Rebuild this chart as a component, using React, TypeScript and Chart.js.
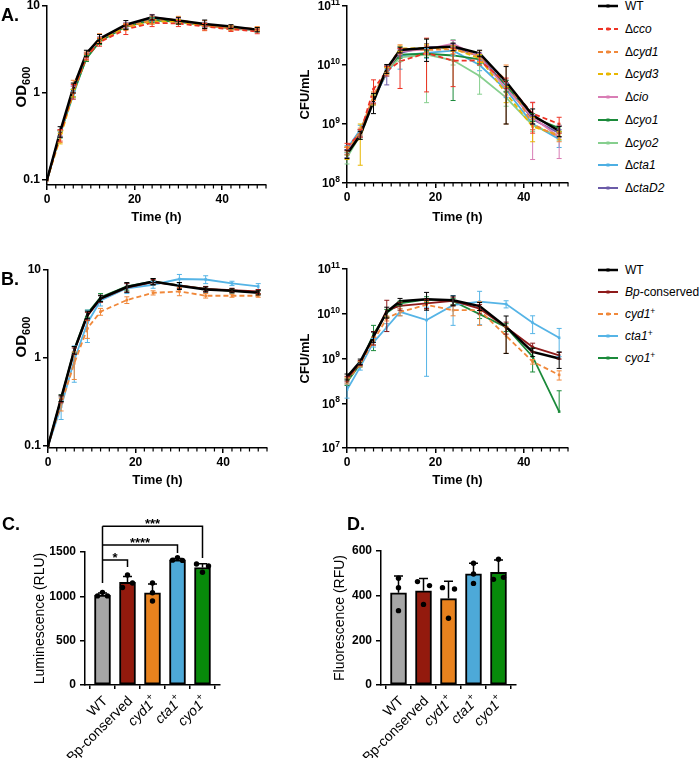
import React, { useEffect, useRef } from 'react';
import { Chart, registerables } from 'chart.js';

Chart.register(...registerables);

const FONT = '"Liberation Sans", Arial, Helvetica, sans-serif';
Chart.defaults.font.family = FONT;
Chart.defaults.color = '#000';

// ---------------- data ----------------
const TIME_H = [0, 3, 6, 9, 12, 18, 24, 30, 36, 42, 48];
const TIME_TICKS = [0, 20, 40];
const OD_TICKS = [0.1, 1, 10];
const CFU_A_EXP = [8, 9, 10, 11];
const CFU_B_EXP = [7, 8, 9, 10, 11];

const A_NAMES = ['WT', 'Δcco', 'Δcyd1', 'Δcyd3', 'Δcio', 'Δcyo1', 'Δcyo2', 'Δcta1', 'ΔctaD2'];
const B_NAMES = ['WT', 'Bp-conserved', 'cyd1+', 'cta1+', 'cyo1+'];

// Panel A – OD600
const A_OD_WT = [0.1, 0.36, 1.15, 2.85, 4.2, 6.1, 7.4, 6.8, 6.2, 5.8, 5.35];
const A_OD_WT_SD = [0, 0.05, 0.15, 0.25, 0.5, 0.7, 0.5, 0.6, 0.7, 0.3, 0.3];
const A_OD_CCO = [0.1, 0.33, 1.05, 2.6, 3.85, 5.4, 6.4, 6.3, 5.8, 5.4, 5.1];
const A_OD_CCO_SD = [0, 0.05, 0.2, 0.2, 0.4, 0.7, 0.6, 0.5, 0.5, 0.3, 0.3];
const A_OD_CYD1 = [0.1, 0.32, 1.2, 2.75, 4.3, 5.8, 6.9, 7.0, 6.0, 5.6, 5.5];
const A_OD_CYD1_SD = [0, 0.05, 0.2, 0.2, 0.5, 0.5, 0.7, 0.6, 0.8, 0.4, 0.3];
const A_OD_CYD3 = [0.1, 0.3, 1.0, 2.6, 4.0, 5.7, 6.6, 6.6, 5.9, 5.6, 5.4];
const A_OD_CYD3_SD = [0, 0.04, 0.1, 0.2, 0.3, 0.4, 0.4, 0.4, 0.4, 0.3, 0.2];
const A_OD_CIO = [0.1, 0.34, 1.1, 2.7, 4.1, 6.0, 7.5, 6.8, 6.0, 5.6, 5.3];
const A_OD_CIO_SD = [0, 0.03, 0.1, 0.2, 0.3, 0.4, 0.5, 0.4, 0.4, 0.3, 0.2];
const A_OD_CYO1 = [0.1, 0.34, 1.0, 2.5, 3.9, 5.8, 6.9, 6.6, 6.0, 5.6, 5.3];
const A_OD_CYO1_SD = [0, 0.03, 0.1, 0.2, 0.3, 0.4, 0.4, 0.4, 0.4, 0.2, 0.2];
const A_OD_CYO2 = [0.1, 0.33, 1.0, 2.5, 3.9, 5.8, 6.8, 6.6, 5.9, 5.5, 5.2];
const A_OD_CYO2_SD = [0, 0.03, 0.1, 0.2, 0.3, 0.4, 0.4, 0.4, 0.4, 0.2, 0.2];
const A_OD_CTA1 = [0.1, 0.34, 0.95, 2.6, 4.0, 5.9, 7.0, 6.7, 6.0, 5.6, 5.3];
const A_OD_CTA1_SD = [0, 0.03, 0.1, 0.2, 0.3, 0.4, 0.4, 0.4, 0.4, 0.2, 0.2];
const A_OD_CTAD2 = [0.1, 0.35, 1.1, 2.7, 4.1, 6.0, 7.2, 6.8, 6.1, 5.7, 5.4];
const A_OD_CTAD2_SD = [0, 0.03, 0.1, 0.2, 0.3, 0.4, 0.4, 0.4, 0.4, 0.2, 0.2];

// Panel A – CFU/mL
const A_CFU_WT = [3.1e8, 6.5e8, 2.4e9, 8.7e9, 1.8e10, 1.95e10, 2.05e10, 1.58e10, 5.2e9, 1.4e9, 7.6e8];
const A_CFU_WT_SD = [5e7, 1e8, 9e8, 1.5e9, 2e9, 8e9, 3e9, 2e9, 4.2e9, 4e8, 1.5e8];
const A_CFU_CCO = [4.1e8, 7e8, 3.9e9, 8e9, 1.15e10, 1.6e10, 1.18e10, 1.2e10, 5e9, 1.5e9, 1.0e9];
const A_CFU_CCO_SD = [6e7, 1e8, 1.7e9, 1.5e9, 7.5e9, 1.25e10, 7.5e9, 2e9, 1e9, 8e8, 3e8];
const A_CFU_CYD1 = [3.5e8, 7.5e8, 3e9, 8.5e9, 1.9e10, 1.8e10, 1.85e10, 1.45e10, 5.5e9, 1e9, 6e8];
const A_CFU_CYD1_SD = [5e7, 1e8, 5e8, 1e9, 3e9, 3e9, 3e9, 3e9, 4.5e9, 2e8, 1e8];
const A_CFU_CYD3 = [3.3e8, 6e8, 2.6e9, 8e9, 1.9e10, 1.95e10, 1.9e10, 1.3e10, 3.3e9, 9e8, 6.5e8];
const A_CFU_CYD3_SD = [8e7, 4e8, 5e8, 1e9, 2e9, 3e9, 2e9, 2e9, 1e9, 4e8, 1e8];
const A_CFU_CIO = [3.6e8, 7e8, 2.8e9, 8e9, 1.7e10, 1.85e10, 2.3e10, 1.35e10, 4e9, 1.3e9, 6e8];
const A_CFU_CIO_SD = [5e7, 1e8, 5e8, 1e9, 2e9, 3e9, 3e9, 2e9, 1e9, 1.05e9, 3.4e8];
const A_CFU_CYO1 = [3.5e8, 7e8, 2.8e9, 8.5e9, 1.5e10, 1.55e10, 1.45e10, 1.25e10, 4.5e9, 1.3e9, 8.5e8];
const A_CFU_CYO1_SD = [5e7, 1e8, 5e8, 1e9, 2e9, 2e9, 1.2e10, 2e9, 1e9, 2e8, 1e8];
const A_CFU_CYO2 = [2.7e8, 6.5e8, 2.7e9, 8e9, 1.35e10, 1.5e10, 1.2e10, 6.5e9, 2.8e9, 9.5e8, 6.2e8];
const A_CFU_CYO2_SD = [6e7, 1e8, 5e8, 1e9, 2e9, 1.27e10, 2e9, 3.3e9, 8e8, 2e8, 1e8];
const A_CFU_CTA1 = [3.8e8, 8e8, 2.6e9, 7.5e9, 1.45e10, 1.6e10, 1.75e10, 1.0e10, 3.8e9, 1e9, 5.5e8];
const A_CFU_CTA1_SD = [5e7, 1.5e8, 5e8, 1e9, 6e9, 3e9, 3e9, 2e9, 1e9, 2e8, 1.5e8];
const A_CFU_CTAD2 = [3.2e8, 7e8, 2.7e9, 7.2e9, 1.6e10, 2.0e10, 2.0e10, 1.4e10, 4.5e9, 1.2e9, 7e8];
const A_CFU_CTAD2_SD = [5e7, 1e8, 5e8, 2.6e9, 2e9, 3e9, 3e9, 2e9, 1e9, 2e8, 1e8];

// Panel B – OD600
const B_OD_WT = [0.1, 0.35, 1.23, 3.1, 4.77, 6.4, 7.4, 6.6, 6.0, 5.8, 5.5];
const B_OD_WT_SD = [0, 0.03, 0.12, 0.3, 0.4, 0.8, 0.6, 0.6, 0.4, 0.3, 0.3];
const B_OD_BP = [0.1, 0.34, 1.2, 3.0, 4.7, 6.3, 7.3, 6.7, 6.1, 5.9, 5.7];
const B_OD_BP_SD = [0, 0.03, 0.1, 0.3, 0.4, 0.7, 0.5, 0.5, 0.4, 0.3, 0.3];
const B_OD_CYD1 = [0.1, 0.3, 0.87, 2.17, 3.36, 4.56, 5.5, 5.7, 5.1, 5.1, 5.1];
const B_OD_CYD1_SD = [0, 0.05, 0.3, 0.5, 0.3, 0.4, 0.3, 0.6, 0.3, 0.2, 0.2];
const B_OD_CTA1 = [0.1, 0.28, 0.95, 2.5, 4.5, 6.2, 6.8, 7.9, 7.8, 7.05, 6.5];
const B_OD_CTA1_SD = [0, 0.08, 0.42, 1.0, 0.6, 0.8, 0.6, 1.0, 0.8, 0.4, 0.5];
const B_OD_CYO1 = [0.1, 0.35, 1.25, 3.2, 4.9, 6.5, 7.4, 6.7, 6.1, 5.8, 5.6];
const B_OD_CYO1_SD = [0, 0.03, 0.1, 0.3, 0.5, 0.6, 0.6, 0.5, 0.4, 0.3, 0.3];

// Panel B – CFU/mL
const B_CFU_WT = [3.9e8, 8.5e8, 3.1e9, 1.1e10, 1.9e10, 2.1e10, 2.0e10, 1.48e10, 5.1e9, 1.4e9, 1.0e9];
const B_CFU_WT_SD = [6e7, 1.2e8, 8e8, 3e9, 3e9, 9e9, 5e9, 3e9, 3.8e9, 3e8, 4e8];
const B_CFU_BP = [3.5e8, 8e8, 3e9, 1.2e10, 1.5e10, 1.7e10, 1.95e10, 1.3e10, 5e9, 1.8e9, 1.17e9];
const B_CFU_BP_SD = [5e7, 1e8, 1e9, 8e9, 3e9, 4e9, 4e9, 3e9, 1.5e9, 4e8, 2e8];
const B_CFU_CYD1 = [3.2e8, 7.5e8, 2.5e9, 7.9e9, 1.1e10, 1.58e10, 1.2e10, 1.2e10, 3.2e9, 8.5e8, 4.3e8];
const B_CFU_CYD1_SD = [5e7, 1e8, 5e8, 1e9, 2e9, 3e9, 3e9, 6.5e9, 1.9e9, 1e8, 1e8];
const B_CFU_CTA1 = [2e8, 6.5e8, 2.3e9, 5e9, 1.1e10, 7.2e9, 1.55e10, 1.87e10, 1.65e10, 6.3e9, 2.9e9];
const B_CFU_CTA1_SD = [7e7, 1e8, 5e8, 1e9, 2e9, 6.8e9, 1e10, 1.3e10, 3e9, 2.7e9, 1.8e9];
const B_CFU_CYO1 = [3e8, 7.5e8, 3.5e9, 1.05e10, 1.7e10, 2.1e10, 1.9e10, 9.8e9, 5e9, 1.1e9, 6.5e7];
const B_CFU_CYO1_SD = [5e7, 1e8, 2e9, 2e9, 2e9, 3e9, 3e9, 2e9, 1e9, 6e8, 1.25e8];

// Panel C – luminescence
const BAR_LABELS = ['WT', 'Bp-conserved', 'cyd1+', 'cta1+', 'cyo1+'];
const C_MEAN = [1015, 1158, 1040, 1412, 1325];
const C_SD = [22, 65, 100, 14, 42];
const C_PTS_1 = [1005, 1240, 1150, 1408, 1365];
const C_PTS_2 = [1045, 1100, 1040, 1435, 1342];
const C_PTS_3 = [1005, 1150, 948, 1405, 1271];
const SIG_TO = [1, 3, 4];
const SIG_TEXT = ['*', '****', '***'];
const SIG_LEVEL = [1410, 1580, 1790];
const SIG_END = [1331, 1490, 1432];
const SIG_FROM_END = 1150;

// Panel D – fluorescence
const D_MEAN = [413, 422, 387, 498, 505];
const D_SD = [75, 55, 78, 47, 55];
const D_PTS_1 = [478, 463, 436, 545, 563];
const D_PTS_2 = [436, 445, 430, 497, 473];
const D_PTS_3 = [333, 361, 299, 455, 482];

// ---------------- styles ----------------
const A_COLORS = ['#000000', '#EE3324', '#F0883A', '#E8B700', '#D97DB5', '#1B8A3A', '#86CF8E', '#4DAFE3', '#6B5BA8'];
const A_DASH = [false, true, true, true, false, false, false, false, false];
const B_COLORS = ['#000000', '#8E1A1A', '#F0883A', '#55B4E6', '#1B8A3A'];
const B_DASH = [false, false, true, false, false];
const BAR_COLORS = ['#A6A6A6', '#931A0D', '#E8821E', '#4DA9D8', '#078A0A'];
const C_JITTER_PX = [[-5, 0, 5], [0, -5, 5], [0, 0, 0], [-5, 0, 5], [-6, 6, 0]];
const D_JITTER_PX = [[0, 0, 0], [-6, 6, 0], [-6, 6, 0], [0, 0, 0], [0, -5, 5]];
const PX_PER_BAR = 25;

const A_OD = [A_OD_WT, A_OD_CCO, A_OD_CYD1, A_OD_CYD3, A_OD_CIO, A_OD_CYO1, A_OD_CYO2, A_OD_CTA1, A_OD_CTAD2];
const A_OD_SD = [A_OD_WT_SD, A_OD_CCO_SD, A_OD_CYD1_SD, A_OD_CYD3_SD, A_OD_CIO_SD, A_OD_CYO1_SD, A_OD_CYO2_SD, A_OD_CTA1_SD, A_OD_CTAD2_SD];
const A_CFU = [A_CFU_WT, A_CFU_CCO, A_CFU_CYD1, A_CFU_CYD3, A_CFU_CIO, A_CFU_CYO1, A_CFU_CYO2, A_CFU_CTA1, A_CFU_CTAD2];
const A_CFU_SD = [A_CFU_WT_SD, A_CFU_CCO_SD, A_CFU_CYD1_SD, A_CFU_CYD3_SD, A_CFU_CIO_SD, A_CFU_CYO1_SD, A_CFU_CYO2_SD, A_CFU_CTA1_SD, A_CFU_CTAD2_SD];
const B_OD = [B_OD_WT, B_OD_BP, B_OD_CYD1, B_OD_CTA1, B_OD_CYO1];
const B_OD_SD = [B_OD_WT_SD, B_OD_BP_SD, B_OD_CYD1_SD, B_OD_CTA1_SD, B_OD_CYO1_SD];
const B_CFU = [B_CFU_WT, B_CFU_BP, B_CFU_CYD1, B_CFU_CTA1, B_CFU_CYO1];
const B_CFU_SD = [B_CFU_WT_SD, B_CFU_BP_SD, B_CFU_CYD1_SD, B_CFU_CTA1_SD, B_CFU_CYO1_SD];

// ---------------- helpers ----------------
type Seg = { t: string; italic?: boolean; sup?: boolean; sub?: boolean; size?: number };

function drawRich(ctx: CanvasRenderingContext2D, segs: Seg[], x: number, y: number, size: number, weight: string, align: 'left' | 'right' | 'center') {
  const fontFor = (s: Seg) => `${s.italic ? 'italic ' : ''}${weight} ${s.size ? s.size : (s.sup || s.sub ? Math.round(size * 0.72) : size)}px ${FONT}`;
  let total = 0;
  const widths = segs.map((s) => {
    ctx.font = fontFor(s);
    const w = ctx.measureText(s.t).width;
    total += w;
    return w;
  });
  let cx = align === 'right' ? x - total : align === 'center' ? x - total / 2 : x;
  ctx.textBaseline = 'middle';
  ctx.textAlign = 'left';
  segs.forEach((s, i) => {
    ctx.font = fontFor(s);
    const dy = s.sup ? -size * 0.38 : s.sub ? size * 0.32 : 0;
    ctx.fillText(s.t, cx, y + dy);
    cx += widths[i];
  });
}

function geneSegs(label: string): Seg[] {
  if (label.endsWith('+')) return [{ t: label.slice(0, -1), italic: true }, { t: '+', sup: true }];
  return [{ t: label }];
}

type Box = { left: number; top: number; width: number; height: number; padL: number; padT: number; padR: number; xH: number };

const tickFont = { size: 12, weight: 'bold' as const, family: FONT };
const axisBorder = { display: true, color: '#000', width: 1.5 };
const tickGrid = (len: number) => ({ display: true, drawOnChartArea: false, drawTicks: true, tickLength: len, color: '#000', lineWidth: 1.5 });

function baseOptions(box: Box) {
  return {
    responsive: false,
    animation: false,
    devicePixelRatio: 1,
    events: [],
    layout: { padding: { left: 0, top: box.padT, right: box.padR, bottom: 0 } },
    plugins: { legend: { display: false }, tooltip: { enabled: false }, title: { display: false } },
  };
}

const fixYWidth = (w: number) => (s: any) => { s.width = w; s.paddingTop = 0; s.paddingBottom = 0; };
const fixXHeight = (h: number) => (s: any) => { s.height = h; s.paddingLeft = 0; s.paddingRight = 0; };

// ---------------- plugins ----------------
const lineErrorBars = {
  id: 'lineErrorBars',
  afterDatasetsDraw(chart: any) {
    const ctx = chart.ctx;
    const ys = chart.scales.y;
    const sets = chart.data.datasets;
    for (let d = sets.length - 1; d >= 0; d--) {
      const set = sets[d];
      if (!set.sd) continue;
      const meta = chart.getDatasetMeta(d);
      ctx.save();
      ctx.strokeStyle = set.borderColor;
      ctx.lineWidth = 1;
      meta.data.forEach((el: any, i: number) => {
        const sd = set.sd[i];
        if (!sd) return;
        const v = set.data[i].y;
        const top = ys.getPixelForValue(v + sd);
        const lo = v - sd;
        const loOk = lo > ys.min;
        const bot = loOk ? ys.getPixelForValue(lo) : el.y;
        const x = el.x;
        ctx.beginPath();
        ctx.moveTo(x, top);
        ctx.lineTo(x, bot);
        ctx.moveTo(x - 2.5, top);
        ctx.lineTo(x + 2.5, top);
        if (loOk) {
          ctx.moveTo(x - 2.5, bot);
          ctx.lineTo(x + 2.5, bot);
        }
        ctx.stroke();
      });
      ctx.restore();
    }
  },
};

const minorTicks = {
  id: 'minorTicks',
  afterDraw(chart: any) {
    const xs = chart.scales.x;
    const ctx = chart.ctx;
    ctx.save();
    ctx.strokeStyle = '#000';
    ctx.lineWidth = 1.2;
    ctx.beginPath();
    for (let v = 2; v <= xs.max; v += 2) {
      if (TIME_TICKS.includes(v)) continue;
      const px = xs.getPixelForValue(v);
      ctx.moveTo(px, xs.top);
      ctx.lineTo(px, xs.top + 3.5);
    }
    ctx.stroke();
    ctx.restore();
  },
};

const powTicks = (exps: number[]) => ({
  id: 'powTicks',
  afterDraw(chart: any) {
    const ys = chart.scales.y;
    const ctx = chart.ctx;
    ctx.save();
    ctx.fillStyle = '#000';
    exps.forEach((e) => {
      const y = ys.getPixelForValue(Math.pow(10, e));
      drawRich(ctx, [{ t: '10' }, { t: String(e), sup: true, size: 8.5 }], ys.right - 7, y + 1, 12, 'bold', 'right');
    });
    ctx.restore();
  },
});

const odTitle = (cx: number, cy: number) => ({
  id: 'odTitle',
  afterDraw(chart: any) {
    const ctx = chart.ctx;
    ctx.save();
    ctx.fillStyle = '#000';
    ctx.translate(cx, cy);
    ctx.rotate(-Math.PI / 2);
    drawRich(ctx, [{ t: 'OD', size: 15 }, { t: '600', sub: true, size: 11 }], 0, 0, 15, 'bold', 'center');
    ctx.restore();
  },
});

const barErrors = {
  id: 'barErrors',
  afterDatasetDraw(chart: any, args: any) {
    const set = chart.data.datasets[args.index];
    if (!set.sd) return;
    const ys = chart.scales.y;
    const ctx = chart.ctx;
    ctx.save();
    ctx.strokeStyle = '#000';
    ctx.lineWidth = 1.5;
    args.meta.data.forEach((el: any, i: number) => {
      const top = ys.getPixelForValue(set.data[i].y + set.sd[i]);
      ctx.beginPath();
      ctx.moveTo(el.x, el.y);
      ctx.lineTo(el.x, top);
      ctx.moveTo(el.x - 4.5, top);
      ctx.lineTo(el.x + 4.5, top);
      ctx.stroke();
    });
    ctx.restore();
  },
};

const barLabels = {
  id: 'barLabels',
  afterDraw(chart: any) {
    const xs = chart.scales.x;
    const ctx = chart.ctx;
    ctx.save();
    ctx.fillStyle = '#000';
    BAR_LABELS.forEach((lab, i) => {
      const x = xs.getPixelForValue(i);
      ctx.save();
      ctx.translate(x + 3, xs.top + 14);
      ctx.rotate(-Math.PI / 4);
      drawRich(ctx, geneSegs(lab), 0, 0, 14, 'normal', 'right');
      ctx.restore();
    });
    ctx.restore();
  },
};

const sigBrackets = {
  id: 'sigBrackets',
  afterDraw(chart: any) {
    const xs = chart.scales.x;
    const ys = chart.scales.y;
    const ctx = chart.ctx;
    ctx.save();
    ctx.strokeStyle = '#000';
    ctx.fillStyle = '#000';
    ctx.lineWidth = 1.5;
    const x0 = xs.getPixelForValue(0);
    ctx.beginPath();
    ctx.moveTo(x0, ys.getPixelForValue(Math.max(...SIG_LEVEL)));
    ctx.lineTo(x0, ys.getPixelForValue(SIG_FROM_END));
    SIG_TO.forEach((to, k) => {
      const x1 = xs.getPixelForValue(to);
      const yl = ys.getPixelForValue(SIG_LEVEL[k]);
      ctx.moveTo(x0, yl);
      ctx.lineTo(x1, yl);
      ctx.lineTo(x1, ys.getPixelForValue(SIG_END[k]));
    });
    ctx.stroke();
    ctx.font = `bold 13px ${FONT}`;
    ctx.textAlign = 'center';
    ctx.textBaseline = 'alphabetic';
    SIG_TO.forEach((to, k) => {
      const x1 = xs.getPixelForValue(to);
      const yl = ys.getPixelForValue(SIG_LEVEL[k]);
      ctx.fillText(SIG_TEXT[k], (x0 + x1) / 2, yl + 2);
    });
    ctx.restore();
  },
};

// ---------------- chart builders ----------------
function lineDatasets(names: string[], colors: string[], dash: boolean[], vals: number[][], sds: number[][]) {
  return names.map((name, i) => ({
    label: name,
    data: TIME_H.map((t, j) => ({ x: t, y: vals[i][j] })),
    sd: sds[i],
    borderColor: colors[i],
    backgroundColor: colors[i],
    pointBackgroundColor: colors[i],
    borderWidth: i === 0 ? 2.5 : 1.8,
    borderDash: dash[i] ? [5, 3] : [],
    pointRadius: 1.8,
    pointStyle: 'rect',
    pointBorderWidth: 0,
    tension: 0,
  }));
}

function timeAxis(box: Box, titlePadBottom: number) {
  return {
    type: 'linear',
    min: 0,
    max: 50,
    afterBuildTicks: (s: any) => { s.ticks = TIME_TICKS.map((v) => ({ value: v })); },
    afterFit: fixXHeight(box.xH),
    border: axisBorder,
    grid: tickGrid(5),
    ticks: { font: tickFont, color: '#000', padding: 2, maxRotation: 0 },
    title: { display: true, text: 'Time (h)', font: { size: 13, weight: 'bold', family: FONT }, color: '#000', padding: { top: 0, bottom: titlePadBottom } },
  };
}

function odChart(box: Box, names: string[], colors: string[], dash: boolean[], vals: number[][], sds: number[][], yMin: number, titlePadBottom: number) {
  return {
    type: 'line',
    data: { datasets: lineDatasets(names, colors, dash, vals, sds) },
    options: {
      ...baseOptions(box),
      scales: {
        x: timeAxis(box, titlePadBottom),
        y: {
          type: 'logarithmic',
          min: yMin,
          max: 10,
          afterBuildTicks: (s: any) => { s.ticks = OD_TICKS.map((v) => ({ value: v })); },
          afterFit: fixYWidth(box.padL),
          border: axisBorder,
          grid: tickGrid(5),
          ticks: { font: tickFont, color: '#000', padding: 2, callback: (v: any) => String(v) },
        },
      },
    },
    plugins: [lineErrorBars, minorTicks, odTitle(22, 87)],
  };
}

function cfuChart(box: Box, names: string[], colors: string[], dash: boolean[], vals: number[][], sds: number[][], exps: number[], titlePadBottom: number) {
  return {
    type: 'line',
    data: { datasets: lineDatasets(names, colors, dash, vals, sds) },
    options: {
      ...baseOptions(box),
      scales: {
        x: timeAxis(box, titlePadBottom),
        y: {
          type: 'logarithmic',
          min: Math.pow(10, exps[0]),
          max: Math.pow(10, exps[exps.length - 1]),
          afterBuildTicks: (s: any) => { s.ticks = exps.map((e) => ({ value: Math.pow(10, e) })); },
          afterFit: fixYWidth(box.padL),
          border: axisBorder,
          grid: tickGrid(5),
          ticks: { display: false },
          title: { display: true, text: 'CFU/mL', font: { size: 13, weight: 'bold', family: FONT }, color: '#000', padding: { top: 7.2, bottom: 0 } },
        },
      },
    },
    plugins: [lineErrorBars, minorTicks, powTicks(exps)],
  };
}

function barChart(box: Box, means: number[], sds: number[], pts: number[][], jitter: number[][], yMax: number, step: number, title: string, brackets: boolean) {
  const scatter: any[] = [];
  pts.forEach((row, r) => row.forEach((v, i) => scatter.push({ x: i + jitter[i][r] / PX_PER_BAR, y: v })));
  return {
    type: 'bar',
    data: {
      datasets: [
        {
          type: 'bar',
          data: means.map((m, i) => ({ x: i, y: m })),
          sd: sds,
          backgroundColor: BAR_COLORS,
          borderColor: '#000',
          borderWidth: 2,
          borderSkipped: false,
          barThickness: 16,
          order: 1,
        },
        {
          type: 'scatter',
          data: scatter,
          backgroundColor: '#000',
          borderWidth: 0,
          pointRadius: 2.7,
          order: 0,
        },
      ],
    },
    options: {
      ...baseOptions(box),
      scales: {
        x: {
          type: 'linear',
          min: -0.7,
          max: 4.7,
          offset: false,
          afterBuildTicks: (s: any) => { s.ticks = BAR_LABELS.map((_, i) => ({ value: i })); },
          afterFit: fixXHeight(box.xH),
          border: axisBorder,
          grid: tickGrid(4),
          ticks: { display: false },
        },
        y: {
          type: 'linear',
          min: 0,
          max: yMax,
          afterBuildTicks: (s: any) => {
            const t = [];
            for (let v = 0; v <= yMax; v += step) t.push({ value: v });
            s.ticks = t;
          },
          afterFit: fixYWidth(box.padL),
          border: axisBorder,
          grid: tickGrid(5),
          ticks: { font: tickFont, color: '#000', padding: 4, callback: (v: any) => String(v) },
          title: { display: true, text: title, font: { size: 14, weight: 'normal', family: FONT }, color: '#000', padding: { top: 31.6, bottom: 0 } },
        },
      },
    },
    plugins: brackets ? [barErrors, barLabels, sigBrackets] : [barErrors, barLabels],
  };
}

// ---------------- layout ----------------
const BOX_A_OD: Box = { left: 0, top: 0, width: 290, height: 235, padL: 47, padT: 6, padR: 24, xH: 50 };
const BOX_A_CFU: Box = { left: 290, top: 0, width: 300, height: 235, padL: 57, padT: 6, padR: 22, xH: 52 };
const BOX_B_OD: Box = { left: 0, top: 250, width: 290, height: 250, padL: 48, padT: 20, padR: 23, xH: 52 };
const BOX_B_CFU: Box = { left: 290, top: 250, width: 300, height: 250, padL: 57, padT: 19, padR: 22, xH: 52 };
const BOX_C: Box = { left: 0, top: 500, width: 240, height: 258, padL: 85, padT: 52, padR: 20, xH: 73 };
const BOX_D: Box = { left: 300, top: 500, width: 240, height: 258, padL: 81, padT: 51, padR: 24, xH: 73 };

function ChartCanvas({ box, build }: { box: Box; build: () => any }) {
  const ref = useRef<HTMLCanvasElement>(null);
  useEffect(() => {
    const chart = new Chart(ref.current as HTMLCanvasElement, build());
    return () => chart.destroy();
  }, []);
  return (
    <canvas
      ref={ref}
      width={box.width}
      height={box.height}
      style={{ position: 'absolute', left: box.left, top: box.top, width: box.width, height: box.height }}
    />
  );
}

function LegendSwatch({ color, dashed, thick }: { color: string; dashed: boolean; thick: boolean }) {
  return (
    <svg width={22} height={10} style={{ position: 'absolute', left: 0, top: -5 }}>
      <line x1={1} y1={5} x2={21} y2={5} stroke={color} strokeWidth={thick ? 2.5 : 2} strokeDasharray={dashed ? '5 3' : undefined} />
      <rect x={9.5} y={3.5} width={3} height={3} fill={color} />
    </svg>
  );
}

function legendText(name: string) {
  if (name.startsWith('Δ')) return (<>Δ<i>{name.slice(1)}</i></>);
  if (name.startsWith('Bp-')) return (<><i>Bp</i>{name.slice(2)}</>);
  if (name.endsWith('+')) return (<><i>{name.slice(0, -1)}</i><sup style={{ fontSize: '8.5px', verticalAlign: 'top', position: 'relative', top: '-3px' }}>+</sup></>);
  return name;
}

function Legend({ names, colors, dash, top, step }: { names: string[]; colors: string[]; dash: boolean[]; top: number; step: number }) {
  return (
    <>
      {names.map((n, i) => (
        <div key={n} style={{ position: 'absolute', left: 597, top: top + i * step, height: 0 }}>
          <LegendSwatch color={colors[i]} dashed={dash[i]} thick={i === 0} />
          <div style={{ position: 'absolute', left: 28, top: -8, lineHeight: '16px', fontSize: 12, fontFamily: FONT, whiteSpace: 'nowrap', color: '#000' }}>
            {legendText(n)}
          </div>
        </div>
      ))}
    </>
  );
}

const panelLabel = (text: string, left: number, cy: number) => (
  <div style={{ position: 'absolute', left, top: cy - 11, lineHeight: '22px', fontSize: 18, fontWeight: 'bold', fontFamily: FONT, color: '#000' }}>{text}</div>
);

export default function App() {
  return (
    <div style={{ position: 'absolute', left: 0, top: 0, width: 700, height: 758, background: '#fff', overflow: 'hidden' }}>
      <ChartCanvas box={BOX_A_OD} build={() => odChart(BOX_A_OD, A_NAMES, A_COLORS, A_DASH, A_OD, A_OD_SD, 0.0876, 10.2)} />
      <ChartCanvas box={BOX_A_CFU} build={() => cfuChart(BOX_A_CFU, A_NAMES, A_COLORS, A_DASH, A_CFU, A_CFU_SD, CFU_A_EXP, 10.2)} />
      <ChartCanvas box={BOX_B_OD} build={() => odChart(BOX_B_OD, B_NAMES, B_COLORS, B_DASH, B_OD, B_OD_SD, 0.0949, 12.2)} />
      <ChartCanvas box={BOX_B_CFU} build={() => cfuChart(BOX_B_CFU, B_NAMES, B_COLORS, B_DASH, B_CFU, B_CFU_SD, CFU_B_EXP, 12.2)} />
      <ChartCanvas box={BOX_C} build={() => barChart(BOX_C, C_MEAN, C_SD, [C_PTS_1, C_PTS_2, C_PTS_3], C_JITTER_PX, 1500, 500, 'Luminescence (RLU)', true)} />
      <ChartCanvas box={BOX_D} build={() => barChart(BOX_D, D_MEAN, D_SD, [D_PTS_1, D_PTS_2, D_PTS_3], D_JITTER_PX, 600, 200, 'Fluorescence (RFU)', false)} />
      <Legend names={A_NAMES} colors={A_COLORS} dash={A_DASH} top={6} step={22.75} />
      <Legend names={B_NAMES} colors={B_COLORS} dash={B_DASH} top={270} step={22} />
      {panelLabel('A.', 1, 15)}
      {panelLabel('B.', 1, 279)}
      {panelLabel('C.', 2, 524)}
      {panelLabel('D.', 347, 524)}
    </div>
  );
}
